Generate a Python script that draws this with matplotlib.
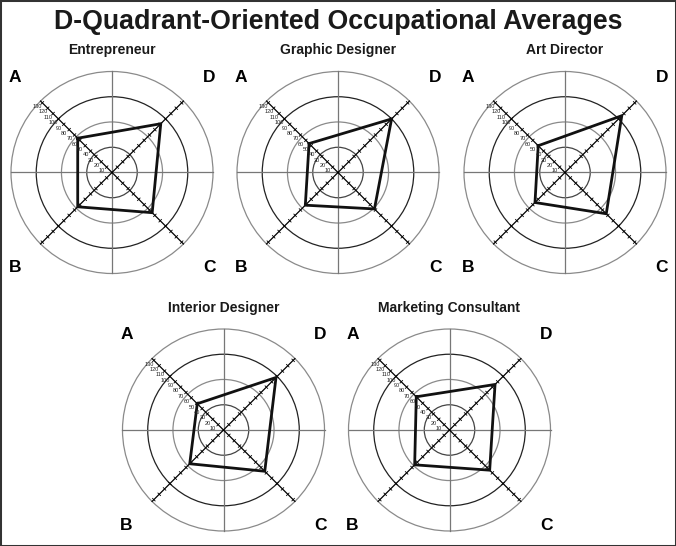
import numpy as np
import matplotlib.pyplot as plt
from matplotlib.patches import Circle, Rectangle

plt.rcParams['font.family'] = ['Liberation Sans', 'DejaVu Sans']

# Data (HBDI-style profile scores per quadrant)
occupations = ['Entrepreneur', 'Graphic Designer', 'Art Director',
               'Interior Designer', 'Marketing Consultant']
a_scores = [64, 54, 50, 49, 62]
b_scores = [64, 61, 56, 63, 65]
c_scores = [75, 68, 77, 77, 75]
d_scores = [91, 100, 106, 98, 85]
ring_levels = [33.3, 66.7, 100, 133.3]
scale_ticks = list(range(10, 140, 10))

# layout in pixels (figure is 676 x 546)
W, H = 676, 546
centers = [(112, 172.5), (338, 172.5), (565, 172.5), (223.5, 430), (449.5, 430)]
px_per_unit = 101 / 133.3
half_px = 125
lim = half_px / px_per_unit

fig = plt.figure(figsize=(6.76, 5.46), dpi=100)
fig.patches.append(Rectangle((0, 0), 1, 1, transform=fig.transFigure, fill=False,
                             edgecolor='#333333', linewidth=2.2))
fig.text(0.5, 1 - 22 / H, 'D-Quadrant-Oriented Occupational Averages',
         ha='center', va='center', fontsize=19.3, fontweight='bold', color='#1a1a1a')

# angles of the quadrant axes: A upper left, D upper right, C lower right, B lower left
ang = {'A': 135, 'D': 45, 'C': -45, 'B': 225}
R = ring_levels[-1]

for i, name in enumerate(occupations):
    cx, cy = centers[i]
    ax = fig.add_axes([(cx - half_px) / W, 1 - (cy + half_px) / H,
                       2 * half_px / W, 2 * half_px / H])
    ax.set_xlim(-lim, lim)
    ax.set_ylim(-lim, lim)
    ax.set_aspect('equal')
    ax.axis('off')

    # rings
    ring_colors = ['#444444', '#8a8a8a', '#222222', '#8a8a8a']
    for r, col in zip(ring_levels, ring_colors):
        ax.add_patch(Circle((0, 0), r, fill=False, edgecolor=col, linewidth=0.9))
    # horizontal / vertical
    ax.plot([-R, R], [0, 0], color='#777777', lw=0.9)
    ax.plot([0, 0], [-R, R], color='#777777', lw=0.9)

    # diagonals with tick marks
    for q in ['A', 'D', 'C', 'B']:
        t = np.radians(ang[q])
        ux, uy = np.cos(t), np.sin(t)
        ax.plot([0, R * ux], [0, R * uy], color='black', lw=0.9)
        px, py = -uy, ux
        for v in scale_ticks:
            ax.plot([v * ux - 2.4 * px, v * ux + 2.4 * px],
                    [v * uy - 2.4 * py, v * uy + 2.4 * py], color='black', lw=0.6)
            if q == 'A':
                ax.text(v * ux - 6.5, v * uy - 5, str(v), fontsize=4,
                        ha='center', va='center', color='#222222')

    # profile polygon
    vals = [a_scores[i], d_scores[i], c_scores[i], b_scores[i]]
    th = np.radians([ang['A'], ang['D'], ang['C'], ang['B']])
    xs = np.append(np.array(vals) * np.cos(th), vals[0] * np.cos(th[0]))
    ys = np.append(np.array(vals) * np.sin(th), vals[0] * np.sin(th[0]))
    ax.plot(xs, ys, color='#111111', lw=2.0, solid_joinstyle='miter')

    # quadrant letters and title
    off_x, off_y = 97 / px_per_unit, 95 / px_per_unit
    ax.text(-off_x, off_y, 'A', fontsize=12.5, fontweight='bold', ha='center', va='center')
    ax.text(off_x, off_y, 'D', fontsize=12.5, fontweight='bold', ha='center', va='center')
    ax.text(-off_x, -off_y, 'B', fontsize=12.5, fontweight='bold', ha='center', va='center')
    ax.text(off_x, -off_y, 'C', fontsize=12.5, fontweight='bold', ha='center', va='center')
    ax.text(0, 122 / px_per_unit, name, fontsize=10, fontweight='bold',
            ha='center', va='center', color='#1a1a1a')

fig.savefig('out.png', dpi=100)
